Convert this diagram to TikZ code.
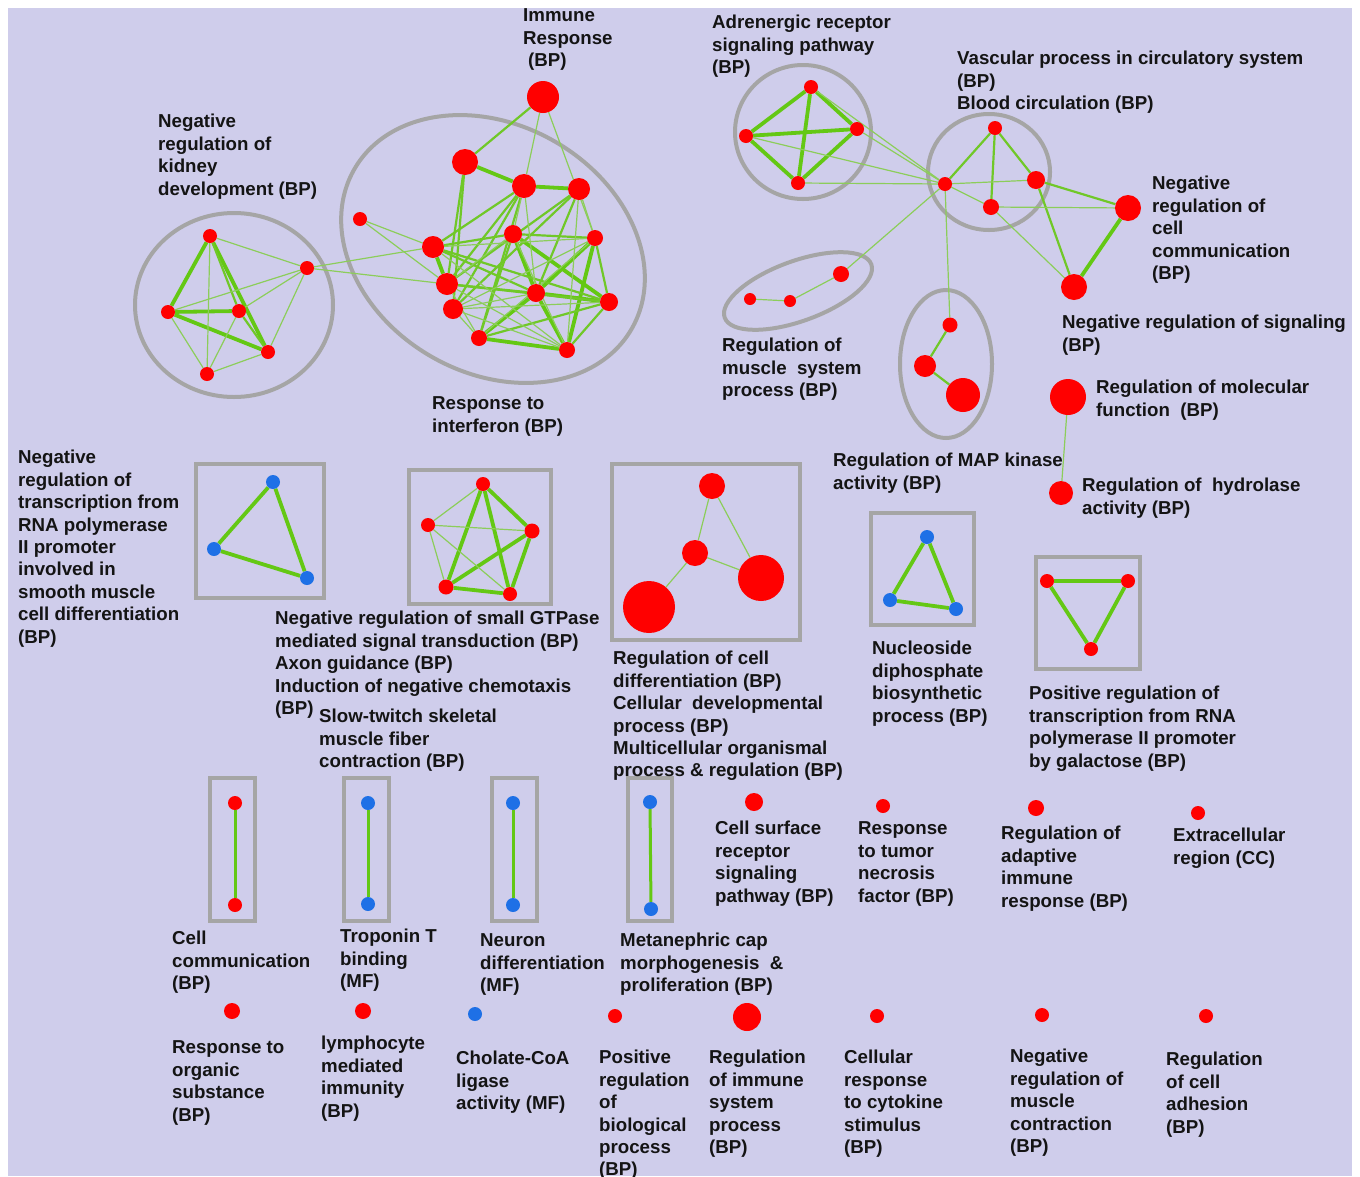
\documentclass[tikz,border=0pt]{standalone}
\usepackage{fontspec}
\setmainfont{Liberation Sans}
\pgfdeclarelayer{back}
\pgfdeclarelayer{bg}
\pgfsetlayers{back,bg,main}
\definecolor{bgl}{RGB}{207,205,235}
\definecolor{nred}{RGB}{255,0,0}
\definecolor{nblue}{RGB}{30,112,230}
\definecolor{gthick}{RGB}{100,200,20}
\definecolor{gmed}{RGB}{112,200,40}
\definecolor{gthin}{RGB}{140,205,90}
\definecolor{ringgray}{RGB}{165,165,165}
\definecolor{txt}{RGB}{20,20,20}
\tikzset{
  rn/.style={circle, fill=nred, inner sep=0pt, minimum size=#1pt},
  bn/.style={circle, fill=nblue, inner sep=0pt, minimum size=#1pt},
  ethick/.style={draw=gthick, line width=3.8pt},
  emed/.style={draw=gmed, line width=2.2pt},
  ethin/.style={draw=gthin, line width=1.2pt},
  ring/.style={draw=ringgray, line width=4pt},
  boxg/.style={draw=ringgray, line width=4.5pt},
  lbl/.style={anchor=north west, inner sep=0pt, align=left, text=txt,
    font=\fontsize{18.7}{22.4}\selectfont\bfseries},
}
\begin{document}
\begin{tikzpicture}[x=1pt,y=-1pt]
\useasboundingbox (0,0) rectangle (1360,1176);
\begin{pgfonlayer}{back}
\fill[white] (0,0) rectangle (1360,1176);
\fill[bgl] (8,8) rectangle (1352,1176);
\end{pgfonlayer}

% ---------- kidney cluster
\node[rn=14] (k1) at (210,236) {};
\node[rn=14] (k2) at (307,268) {};
\node[rn=14] (k3) at (168,312) {};
\node[rn=14] (k4) at (239,311) {};
\node[rn=14] (k5) at (268,352) {};
\node[rn=14] (k6) at (207,374) {};
% ---------- interferon cluster
\node[rn=32] (i0) at (543,97) {};
\node[rn=26] (i1) at (465,162) {};
\node[rn=24] (i2) at (524,186) {};
\node[rn=22] (i3) at (579,189) {};
\node[rn=14] (i4) at (360,219) {};
\node[rn=18] (i5) at (513,234) {};
\node[rn=16] (i6) at (595,238) {};
\node[rn=22] (i7) at (433,247) {};
\node[rn=22] (i8) at (447,284) {};
\node[rn=18] (i9) at (536,293) {};
\node[rn=20] (i10) at (453,309) {};
\node[rn=18] (i11) at (609,302) {};
\node[rn=16] (i12) at (479,338) {};
\node[rn=16] (i13) at (567,350) {};
% ---------- adrenergic
\node[rn=14] (a1) at (811,87) {};
\node[rn=14] (a2) at (746,136) {};
\node[rn=14] (a3) at (857,129) {};
\node[rn=14] (a4) at (798,183) {};
% ---------- vascular
\node[rn=14] (v1) at (995,128) {};
\node[rn=14] (v2) at (945,184) {};
\node[rn=18] (v3) at (1036,180) {};
\node[rn=16] (v4) at (991,207) {};
\node[rn=26] (nc) at (1128,208) {};
\node[rn=26] (ns) at (1074,287) {};
% ---------- muscle system
\node[rn=12] (m1) at (750,299) {};
\node[rn=12] (m2) at (790,301) {};
\node[rn=16] (m3) at (841,274) {};
% ---------- MAP kinase
\node[rn=15] (p1) at (950,325) {};
\node[rn=22] (p2) at (925,366) {};
\node[rn=34] (p3) at (963,395) {};
\node[rn=36] (mf) at (1068,397) {};
\node[rn=24] (hy) at (1061,493) {};
% ---------- middle boxes
\node[bn=14] (b1a) at (273,482) {};
\node[bn=14] (b1b) at (214,549) {};
\node[bn=14] (b1c) at (307,578) {};
\node[rn=14] (g1) at (483,484) {};
\node[rn=14] (g2) at (428,525) {};
\node[rn=15] (g3) at (532,531) {};
\node[rn=15] (g4) at (446,587) {};
\node[rn=14] (g5) at (510,594) {};
\node[rn=26] (c1) at (712,486) {};
\node[rn=26] (c2) at (695,553) {};
\node[rn=46] (c3) at (761,578) {};
\node[rn=52] (c4) at (649,607) {};
\node[bn=14] (n1) at (927,537) {};
\node[bn=14] (n2) at (890,600) {};
\node[bn=14] (n3) at (956,609) {};
\node[rn=14] (r1) at (1047,581) {};
\node[rn=14] (r2) at (1128,581) {};
\node[rn=14] (r3) at (1091,649) {};
% ---------- pairs
\node[rn=14] (e1a) at (235,803) {};
\node[rn=14] (e1b) at (235,905) {};
\node[bn=14] (e2a) at (368,803) {};
\node[bn=14] (e2b) at (368,904) {};
\node[bn=14] (e3a) at (513,803) {};
\node[bn=14] (e3b) at (513,905) {};
\node[bn=14] (e4a) at (650,802) {};
\node[bn=14] (e4b) at (651,909) {};
% ---------- singletons
\node[rn=18] (s1) at (754,802) {};
\node[rn=14] (s2) at (883,806) {};
\node[rn=16] (s3) at (1036,808) {};
\node[rn=14] (s4) at (1198,813) {};
\node[rn=16] (u1) at (232,1011) {};
\node[rn=16] (u2) at (363,1011) {};
\node[bn=14] (u3) at (475,1014) {};
\node[rn=14] (u4) at (615,1016) {};
\node[rn=28] (u5) at (747,1017) {};
\node[rn=14] (u6) at (877,1016) {};
\node[rn=14] (u7) at (1042,1015) {};
\node[rn=14] (u8) at (1206,1016) {};

\begin{pgfonlayer}{bg}
% rings
\draw[ring] (234,305) ellipse (99 and 92);
\draw[ring, rotate around={-30:(493,249)}] (493,249) ellipse (160 and 124);
\draw[ring] (803,132) ellipse (68 and 67);
\draw[ring] (989,172) ellipse (61 and 58);
\draw[ring, rotate around={20:(798,291)}] (798,291) ellipse (78 and 30);
\draw[ring] (946,364) ellipse (46 and 74);
% boxes
\draw[boxg] (196,464) rectangle (324,598);
\draw[boxg] (409,470) rectangle (551,604);
\draw[boxg] (612,464) rectangle (800,640);
\draw[boxg] (871,513) rectangle (974,625);
\draw[boxg] (1036,557) rectangle (1140,669);
\draw[boxg] (210,778) rectangle (255,921);
\draw[boxg] (344,778) rectangle (389,921);
\draw[boxg] (492,778) rectangle (537,921);
\draw[boxg] (628,778) rectangle (672,921);
% kidney edges
\foreach \a/\b in {k1/k3,k1/k5,k3/k4,k3/k5} \draw[ethick] (\a) -- (\b);
\foreach \a/\b in {k1/k4,k4/k5} \draw[emed] (\a) -- (\b);
\foreach \a/\b in {k1/k2,k1/k6,k3/k6,k3/k2,k4/k2,k4/k6,k5/k2,k5/k6,k2/i7,k2/i8} \draw[ethin] (\a) -- (\b);
% interferon edges
\foreach \a/\b in {i1/i2,i2/i3,i7/i8,i5/i9,i5/i11,i6/i9,i6/i13,i9/i11,i9/i12,i9/i13,i12/i13} \draw[ethick] (\a) -- (\b);
\foreach \a/\b in {i0/i1,i1/i8,i1/i10,i2/i7,i2/i8,i2/i10,i2/i12,i3/i8,i3/i10,i3/i9,i7/i5,i7/i11,i7/i9,i5/i6,i5/i12,i6/i11,i8/i9,i8/i11,i11/i12,i11/i13} \draw[emed] (\a) -- (\b);
\foreach \a/\b in {i0/i2,i0/i6,i2/i5,i2/i9,i3/i6,i3/i13,i7/i6,i7/i13,i4/i7,i4/i8,i5/i13,i5/i8,i6/i10,i6/i12,i8/i13,i8/i12,i9/i10,i10/i11,i10/i12,i10/i13} \draw[ethin] (\a) -- (\b);
% adrenergic / vascular
\foreach \a/\b in {a1/a2,a1/a3,a1/a4,a2/a3,a2/a4,a3/a4,nc/ns} \draw[ethick] (\a) -- (\b);
\foreach \a/\b in {v1/v2,v1/v3,v1/v4,v3/nc,v3/ns,p1/p2,p2/p3} \draw[emed] (\a) -- (\b);
\foreach \a/\b in {a1/v2,a2/v2,a3/v2,a4/v2,v2/v3,v2/v4,v4/nc,v4/ns,v2/m3,v2/p1,m1/m2,m2/m3,mf/hy} \draw[ethin] (\a) -- (\b);
% middle boxes
\foreach \a/\b in {b1a/b1b,b1b/b1c,b1a/b1c,g1/g4,g1/g5,g1/g3,g3/g4,g3/g5,g4/g5,n1/n2,n2/n3,n1/n3,r1/r2,r1/r3,r2/r3} \draw[ethick] (\a) -- (\b);
\foreach \a/\b in {g1/g2,g2/g3,g2/g4,g2/g5,c1/c2,c1/c3,c2/c3,c2/c4} \draw[ethin] (\a) -- (\b);
\foreach \a/\b in {e1a/e1b,e2a/e2b,e3a/e3b,e4a/e4b} \draw[draw=gthick, line width=3pt] (\a) -- (\b);
\end{pgfonlayer}

% ---------- labels
\node[lbl] (t1) at (523,6) {\strut Immune\\Response\\\hspace{5pt}(BP)};
\node[lbl] (t2) at (158,112) {\strut Negative\\regulation of\\kidney\\development (BP)};
\node[lbl] (t3) at (432,394) {\strut Response to\\interferon (BP)};
\node[lbl] (t4) at (712,13) {\strut Adrenergic receptor\\signaling pathway\\(BP)};
\node[lbl] (t5) at (957,49) {\strut Vascular process in circulatory system\\(BP)\\Blood circulation (BP)};
\node[lbl] (t6) at (1152,174) {\strut Negative\\regulation of\\cell\\communication\\(BP)};
\node[lbl] (t7) at (1062,313) {\strut Negative regulation of signaling\\(BP)};
\node[lbl] (t8) at (722,336) {\strut Regulation of\\muscle\ \ system\\process (BP)};
\node[lbl] (t9) at (1096,378) {\strut Regulation of molecular\\function\ \ (BP)};
\node[lbl] (t10) at (833,451) {\strut Regulation of MAP kinase\\activity (BP)};
\node[lbl] (t11) at (1082,476) {\strut Regulation of\ \ hydrolase\\activity (BP)};
\node[lbl] (t12) at (18,448) {\strut Negative\\regulation of\\transcription from\\RNA polymerase\\II promoter\\involved in\\smooth muscle\\cell differentiation\\(BP)};
\node[lbl] (t13) at (275,609) {\strut Negative regulation of small GTPase\\mediated signal transduction (BP)\\Axon guidance (BP)\\Induction of negative chemotaxis\\(BP)};
\node[lbl] (t14) at (319,707) {\strut Slow-twitch skeletal\\muscle fiber\\contraction (BP)};
\node[lbl] (t15) at (613,649) {\strut Regulation of cell\\differentiation (BP)\\Cellular\ \ developmental\\process (BP)\\Multicellular organismal\\process \& regulation (BP)};
\node[lbl] (t16) at (872,639) {\strut Nucleoside\\diphosphate\\biosynthetic\\process (BP)};
\node[lbl] (t17) at (1029,684) {\strut Positive regulation of\\transcription from RNA\\polymerase II promoter\\by galactose (BP)};
\node[lbl] (t18) at (715,819) {\strut Cell surface\\receptor\\signaling\\pathway (BP)};
\node[lbl] (t19) at (858,819) {\strut Response\\to tumor\\necrosis\\factor (BP)};
\node[lbl] (t20) at (1001,824) {\strut Regulation of\\adaptive\\immune\\response (BP)};
\node[lbl] (t21) at (1173,826) {\strut Extracellular\\region (CC)};
\node[lbl] (t22) at (172,929) {\strut Cell\\communication\\(BP)};
\node[lbl] (t23) at (340,927) {\strut Troponin T\\binding\\(MF)};
\node[lbl] (t24) at (480,931) {\strut Neuron\\differentiation\\(MF)};
\node[lbl] (t25) at (620,931) {\strut Metanephric cap\\morphogenesis\ \ \&\\proliferation (BP)};
\node[lbl] (t26) at (172,1038) {\strut Response to\\organic\\substance\\(BP)};
\node[lbl] (t27) at (321,1034) {\strut lymphocyte\\mediated\\immunity\\(BP)};
\node[lbl] (t28) at (456,1049) {\strut Cholate-CoA\\ligase\\activity (MF)};
\node[lbl] (t29) at (599,1048) {\strut Positive\\regulation\\of\\biological\\process\\(BP)};
\node[lbl] (t30) at (709,1048) {\strut Regulation\\of immune\\system\\process\\(BP)};
\node[lbl] (t31) at (844,1048) {\strut Cellular\\response\\to cytokine\\stimulus\\(BP)};
\node[lbl] (t32) at (1010,1047) {\strut Negative\\regulation of\\muscle\\contraction\\(BP)};
\node[lbl] (t33) at (1166,1050) {\strut Regulation\\of cell\\adhesion\\(BP)};
\fill[white] (0,0) rectangle (1360,8);
\end{tikzpicture}
\end{document}
